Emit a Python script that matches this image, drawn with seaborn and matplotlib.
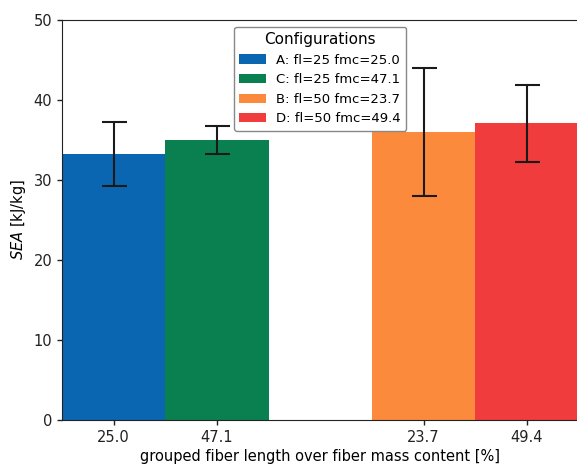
import matplotlib
matplotlib.use("Agg")
import matplotlib.pyplot as plt
import seaborn as sns
import pandas as pd

# Data
tick_labels = ["25.0", "47.1", "23.7", "49.4"]
configs = ["A: fl=25 fmc=25.0", "C: fl=25 fmc=47.1", "B: fl=50 fmc=23.7", "D: fl=50 fmc=49.4"]
sea_mean = [33.3, 35.0, 36.0, 37.1]
sea_err = [4.0, 1.7, 8.0, 4.8]
colors = ["#0a66b0", "#0a8050", "#fb8a3c", "#f03c3c"]

order = ["25.0", "47.1", "gap", "23.7", "49.4"]

df = pd.DataFrame({"fmc": tick_labels, "config": configs, "SEA": sea_mean, "err": sea_err})

plt.rcParams["font.family"] = ["DejaVu Sans"]
plt.rcParams["font.size"] = 10.5

fig = plt.figure(figsize=(5.77, 4.65), dpi=100)
ax = fig.add_axes([0.1075, 0.0968, 0.895, 0.860])

sns.barplot(data=df, x="fmc", y="SEA", hue="config", order=order,
            hue_order=configs, palette=colors, dodge=False, width=1.0,
            errorbar=None, saturation=1.0, linewidth=0, ax=ax)

xpos = [order.index(t) for t in tick_labels]
ax.errorbar(xpos, sea_mean, yerr=sea_err, fmt="none", ecolor="#1a1a1a",
            elinewidth=1.5, capsize=9, capthick=1.5, zorder=5)

ax.set_xticks(xpos)
ax.set_xticklabels(tick_labels, fontsize=10.5)
ax.set_xlim(-0.5, 4.5)
ax.set_ylim(0, 50)
ax.set_yticks([0, 10, 20, 30, 40, 50])
ax.tick_params(axis="both", labelsize=10.5, length=3.5, width=1, colors="#222222")
ax.set_xlabel("grouped fiber length over fiber mass content [%]", fontsize=10.5, labelpad=3)
ax.set_ylabel("$SEA$ [kJ/kg]", fontsize=10.5)
for s in ax.spines.values():
    s.set_visible(True)
    s.set_color("#222222")

leg = ax.legend(title="Configurations", loc="upper center",
                bbox_to_anchor=(0.5, 1.0), fontsize=9.5, title_fontsize=11,
                frameon=True, handlelength=2.0, framealpha=1.0)
leg.get_frame().set_edgecolor("#888888")
leg.set_zorder(10)

fig.savefig("out.png", dpi=100)
